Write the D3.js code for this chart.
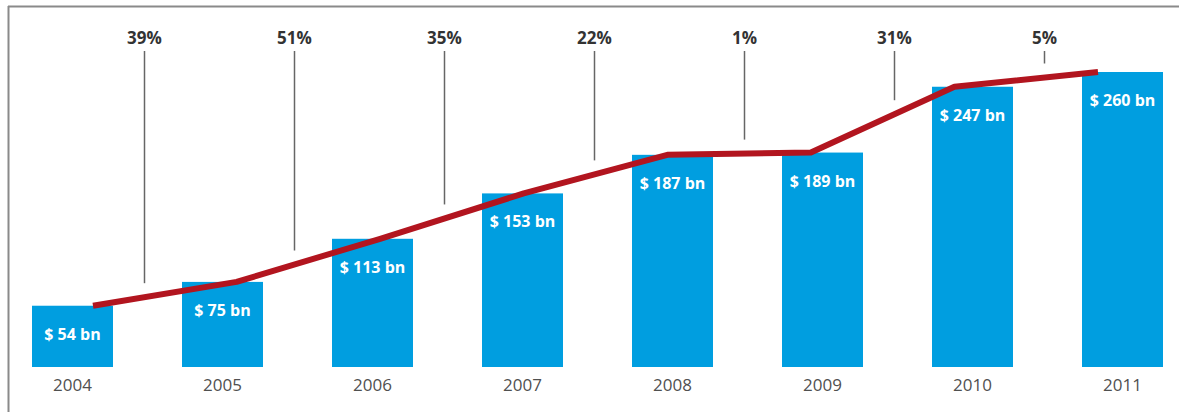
<!DOCTYPE html>
<html>
<head>
<meta charset="utf-8">
<script src="https://cdn.jsdelivr.net/npm/d3@7"></script>
<style>
  body { margin: 0; background: #fff; }
  svg { display: block; font-family: "Open Sans", sans-serif; }
</style>
</head>
<body>
<script>
// chart data
var years = ["2004", "2005", "2006", "2007", "2008", "2009", "2010", "2011"];
var values = [54, 75, 113, 153, 187, 189, 247, 260];
var growth = ["39%", "51%", "35%", "22%", "1%", "31%", "5%"];

var width = 1179,
    height = 412;

var svg = d3.select("body")
    .append("svg")
    .attr("width", width)
    .attr("height", height);

// frame (top and left edge only)
svg.append("line")
    .attr("x1", 8).attr("x2", width)
    .attr("y1", 6.5).attr("y2", 6.5)
    .attr("stroke", "#8a8a8a")
    .attr("stroke-width", 2);
svg.append("line")
    .attr("x1", 8.5).attr("x2", 8.5)
    .attr("y1", 6).attr("y2", height)
    .attr("stroke", "#8a8a8a")
    .attr("stroke-width", 2);

// scales
var x = d3.scaleBand()
    .domain(years)
    .range([32, 1163])
    .paddingInner(0.46)
    .paddingOuter(0);

var xLine = d3.scalePoint()
    .domain(years)
    .range([93, 1098]);

var y = d3.scaleLinear()
    .domain([0, 260])
    .range([367, 72]);

// bars
svg.selectAll(".bar")
    .data(values)
    .enter()
    .append("rect")
    .attr("class", "bar")
    .attr("x", function(d, i){ return x(years[i]); })
    .attr("y", function(d){ return y(d); })
    .attr("width", x.bandwidth())
    .attr("height", function(d){ return y(0) - y(d); })
    .attr("fill", "#009ee0");

// value labels inside bars
svg.selectAll(".val")
    .data(values)
    .enter()
    .append("text")
    .attr("class", "val")
    .attr("x", function(d, i){ return x(years[i]) + x.bandwidth() / 2; })
    .attr("y", function(d){ return y(d) + 34; })
    .attr("text-anchor", "middle")
    .attr("fill", "#fff")
    .attr("font-weight", "bold")
    .attr("font-size", 16)
    .text(function(d){ return "$ " + d + " bn"; });

// year axis labels
var xAxis = d3.axisBottom(x).tickSize(0).tickPadding(0);
var axisG = svg.append("g")
    .attr("transform", "translate(0,379)")
    .call(xAxis);
axisG.select(".domain").remove();
axisG.selectAll("text")
    .attr("font-size", 17)
    .attr("font-family", "Open Sans, sans-serif")
    .attr("fill", "#505050");

// growth line
var linePts = values.map(function(d, i){ return [xLine(years[i]), y(d)]; });

function lineYAt(px){
    for (var i = 0; i < linePts.length - 1; i++){
        var a = linePts[i], b = linePts[i + 1];
        if (px >= a[0] && px <= b[0]){
            return a[1] + (b[1] - a[1]) * (px - a[0]) / (b[0] - a[0]);
        }
    }
    return linePts[linePts.length - 1][1];
}

// growth labels and connectors, between bars
var mids = growth.map(function(g, i){
    return (x(years[i]) + x(years[i + 1]) + x.bandwidth()) / 2 - 3;
});

svg.selectAll(".conn")
    .data(growth)
    .enter()
    .append("line")
    .attr("class", "conn")
    .attr("x1", function(d, i){ return mids[i]; })
    .attr("x2", function(d, i){ return mids[i]; })
    .attr("y1", 51)
    .attr("y2", function(d, i){ return lineYAt(mids[i]) - 14; })
    .attr("stroke", "#666")
    .attr("stroke-width", 1.5);

svg.selectAll(".pct")
    .data(growth)
    .enter()
    .append("text")
    .attr("class", "pct")
    .attr("x", function(d, i){ return mids[i]; })
    .attr("y", 44)
    .attr("text-anchor", "middle")
    .attr("fill", "#333")
    .attr("font-weight", "bold")
    .attr("font-size", 17)
    .text(function(d){ return d; });

svg.append("path")
    .datum(linePts)
    .attr("d", d3.line())
    .attr("fill", "none")
    .attr("stroke", "#b2151f")
    .attr("stroke-width", 6)
    .attr("stroke-linejoin", "round");
</script>
</body>
</html>
